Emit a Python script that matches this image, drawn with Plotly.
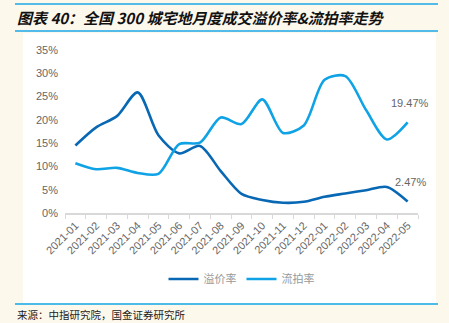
import plotly.graph_objects as go

months = ["2021-01","2021-02","2021-03","2021-04","2021-05","2021-06","2021-07","2021-08","2021-09",
          "2021-10","2021-11","2021-12","2022-01","2022-02","2022-03","2022-04","2022-05"]
premium_rate = [14.5, 18.4, 20.8, 25.9, 16.7, 12.8, 14.4, 9.0, 4.1, 2.8, 2.2, 2.4, 3.5, 4.2, 4.9, 5.6, 2.47]
failed_rate = [10.7, 9.4, 9.7, 8.6, 8.4, 14.8, 15.1, 20.5, 19.1, 24.4, 17.2, 18.8, 28.6, 29.4, 22.1, 15.8, 19.47]
y_ticks = [0, 5, 10, 15, 20, 25, 30, 35]

W, H = 449, 323
L, R, T, B = 65, 418, 50, 213

def px(x):
    return (x - L) / (R - L)

def py(y):
    return (B - y) / (B - T)

dark = "#0868B4"
light = "#0FA3E6"

fig = go.Figure()
fig.add_trace(go.Scatter(x=months, y=premium_rate, name="溢价率", mode="lines",
                         line=dict(color=dark, width=2.6, shape="spline", smoothing=0.8)))
fig.add_trace(go.Scatter(x=months, y=failed_rate, name="流拍率", mode="lines",
                         line=dict(color=light, width=2.6, shape="spline", smoothing=0.8)))

shapes = [
    dict(type="rect", xref="paper", yref="paper", x0=px(23), x1=px(436), y0=py(304), y1=py(33),
         fillcolor="white", line=dict(width=0), layer="below"),
    dict(type="line", xref="paper", yref="paper", x0=px(15), x1=px(438), y0=py(4), y1=py(4),
         line=dict(color="#1AA7E8", width=1.5)),
    dict(type="line", xref="paper", yref="paper", x0=px(15), x1=px(438), y0=py(31), y1=py(31),
         line=dict(color="#1AA7E8", width=1.5)),
    dict(type="line", xref="paper", yref="paper", x0=px(15), x1=px(438), y0=py(304), y1=py(304),
         line=dict(color="#4DBBE8", width=2)),
]

annotations = [
    dict(xref="paper", yref="paper", x=px(15), y=py(17.5), xanchor="left", yanchor="middle",
         text="图表 40：全国 300 城宅地月度成交溢价率&流拍率走势", showarrow=False,
         font=dict(family="Noto Sans CJK SC", size=15, color="#111111", weight="bold", style="italic")),
    dict(xref="paper", yref="paper", x=px(15), y=py(314), xanchor="left", yanchor="middle",
         text="来源：中指研究院，国金证券研究所", showarrow=False,
         font=dict(family="Noto Sans CJK SC", size=10.5, color="#222222")),
    dict(x=months[-1], y=failed_rate[-1], xref="x", yref="y", text=f"{failed_rate[-1]:.2f}%",
         showarrow=False, yshift=19, xshift=2, font=dict(family="Liberation Sans", size=11, color="#666666")),
    dict(x=months[-1], y=premium_rate[-1], xref="x", yref="y", text=f"{premium_rate[-1]:.2f}%",
         showarrow=False, yshift=20, xshift=3, font=dict(family="Liberation Sans", size=11, color="#666666")),
]

fig.update_layout(
    width=W, height=H,
    margin=dict(l=L, r=W - R, t=T, b=H - B, pad=0),
    paper_bgcolor="#FDF8EC", plot_bgcolor="white",
    showlegend=True,
    legend=dict(orientation="h", x=0.5, xanchor="center", y=py(279), yanchor="middle",
                font=dict(family="Noto Sans CJK SC", size=11, color="#999999"),
                bgcolor="rgba(0,0,0,0)", itemwidth=30, tracegroupgap=0),
    shapes=shapes, annotations=annotations,
    xaxis=dict(type="category", tickangle=-45, tickson="boundaries", ticks="outside", ticklen=4,
               tickcolor="#D9D9D9", showline=True, linecolor="#D9D9D9", linewidth=1.5,
               showgrid=False, tickfont=dict(family="Liberation Sans", size=11, color="#666666"),
               range=[-0.5, len(months) - 0.5]),
    yaxis=dict(range=[0, 35], tickvals=y_ticks, ticktext=[f"{v}%" for v in y_ticks],
               showgrid=False, zeroline=False, showline=False,
               tickfont=dict(family="Liberation Sans", size=11, color="#666666"), ticklabelstandoff=6),
)

fig.write_html("out.html")
